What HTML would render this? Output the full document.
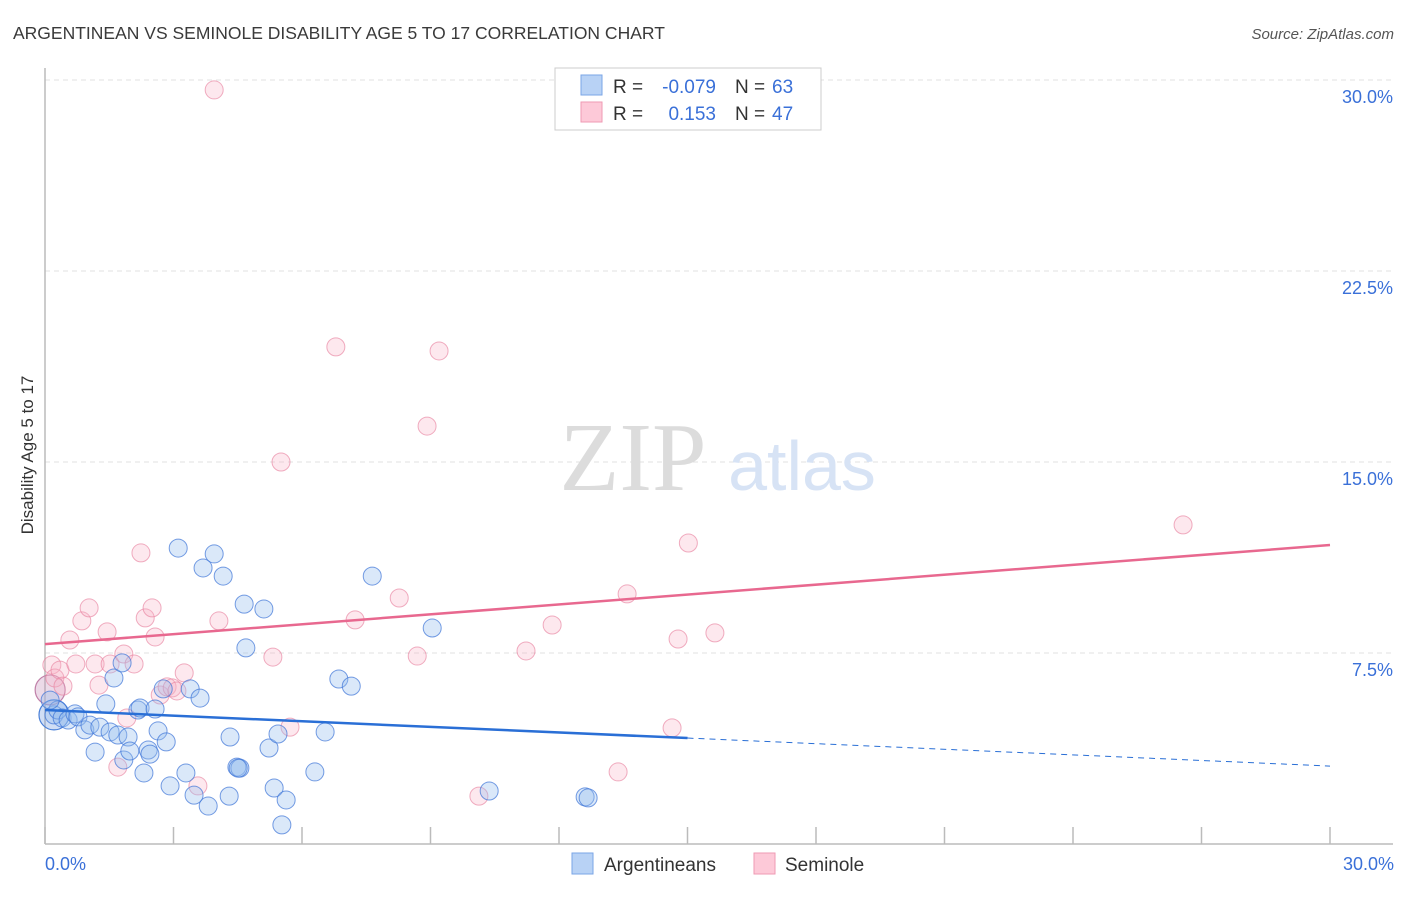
<!DOCTYPE html>
<html><head><meta charset="utf-8">
<style>
body{margin:0;background:#fff;font-family:"Liberation Sans",sans-serif;}
svg text{font-family:"Liberation Sans",sans-serif;}
</style></head>
<body>
<svg id="chart" width="1406" height="892" viewBox="0 0 1406 892" xmlns="http://www.w3.org/2000/svg">
<text x="13" y="39" font-size="17.5" fill="#3a3a3a">ARGENTINEAN VS SEMINOLE DISABILITY AGE 5 TO 17 CORRELATION CHART</text>
<text x="1394" y="39" font-size="15" fill="#555" font-style="italic" text-anchor="end">Source: ZipAtlas.com</text>
<text x="0" y="0" transform="translate(33,455) rotate(-90)" font-size="17" fill="#333" text-anchor="middle">Disability Age 5 to 17</text>
<g id="grid"></g>
<g>
<text x="633" y="490" font-size="98" fill="#dcdcdc" text-anchor="middle" style="font-family:'Liberation Serif',serif">ZIP</text>
<text x="802" y="490" font-size="70" fill="#d7e3f5" text-anchor="middle">atlas</text>
</g>
<line x1="45" y1="68" x2="45" y2="844" stroke="#bbb" stroke-width="1.5"/>
<line x1="45" y1="844" x2="1393" y2="844" stroke="#bbb" stroke-width="1.5"/>
<g id="ticks"></g>
<g id="points"></g>
<g id="trends"></g>
<text x="45" y="870" font-size="18" fill="#3a70d8">0.0%</text>
<text x="1394" y="870" font-size="18" fill="#3a70d8" text-anchor="end">30.0%</text>
<g>
<rect x="555" y="68" width="266" height="62" fill="#fff" stroke="#ccc"/>
<rect x="581" y="75" width="21" height="20" fill="#b8d2f5" stroke="#7aa5e6"/>
<rect x="581" y="102" width="21" height="20" fill="#fdc9d8" stroke="#ef9ab3"/>
<text x="613" y="93" font-size="19" fill="#333">R =</text>
<text x="716" y="93" font-size="19" fill="#3a70d8" text-anchor="end">-0.079</text>
<text x="735" y="93" font-size="19" fill="#333">N =</text>
<text x="772" y="93" font-size="19" fill="#3a70d8">63</text>
<text x="613" y="120" font-size="19" fill="#333">R =</text>
<text x="716" y="120" font-size="19" fill="#3a70d8" text-anchor="end">0.153</text>
<text x="735" y="120" font-size="19" fill="#333">N =</text>
<text x="772" y="120" font-size="19" fill="#3a70d8">47</text>
</g>
<g>
<rect x="572" y="853" width="21" height="21" fill="#b8d2f5" stroke="#7aa5e6"/>
<text x="604" y="871" font-size="19" fill="#333">Argentineans</text>
<rect x="754" y="853" width="21" height="21" fill="#fdc9d8" stroke="#ef9ab3"/>
<text x="785" y="871" font-size="19" fill="#333">Seminole</text>
</g>
</svg>
<script>
const yTicks=[7.5,15,22.5,30];
const yTickLabels=["7.5%","15.0%","22.5%","30.0%"];
const xTicks=[0,3,6,9,12,15,18,21,24,27,30];
const blueX=[0.21,0.30,0.40,0.54,0.70,0.77,0.93,1.05,1.17,1.28,1.42,1.52,1.61,1.70,1.80,1.84,1.94,1.98,2.17,2.22,2.31,2.41,2.45,2.57,2.64,2.76,2.83,2.92,3.11,3.29,3.39,3.48,3.62,3.69,3.81,3.95,4.16,4.30,4.32,4.48,4.55,4.65,4.69,5.11,5.23,5.35,5.44,5.63,5.53,6.30,6.54,6.86,7.15,7.64,9.04,10.37,12.61,12.68,4.51,0.12];
const blueY=[5.07,5.26,4.95,4.87,5.11,4.99,4.48,4.67,3.61,4.59,5.50,4.40,6.52,4.28,7.11,3.30,4.20,3.65,5.26,5.34,2.79,3.69,3.53,5.30,4.44,6.09,4.01,2.28,11.62,2.79,6.09,1.92,5.73,10.84,1.49,11.39,10.52,1.88,4.20,3.02,2.98,9.42,7.70,9.23,3.77,2.20,4.32,1.73,0.75,2.83,4.40,6.48,6.20,10.52,8.48,2.08,1.85,1.81,2.98,5.65];
const pinkX=[0.16,0.23,0.35,0.42,0.58,0.72,0.86,1.03,1.17,1.26,1.45,1.52,1.84,1.70,1.91,2.08,2.24,2.34,2.50,2.57,2.69,2.85,2.97,3.08,3.25,3.57,3.95,4.06,5.32,5.51,5.72,6.79,7.24,8.27,8.69,8.92,9.20,10.13,11.23,11.84,13.38,13.59,14.64,14.78,15.02,15.64,26.57];
const pinkY=[7.03,6.52,6.83,6.20,8.01,7.07,8.76,9.27,7.07,6.24,8.33,7.07,7.46,3.02,4.95,7.07,11.43,8.88,9.27,8.13,5.85,6.17,6.13,6.01,6.72,2.28,29.61,8.76,7.34,15.0,4.59,19.52,8.80,9.66,7.38,16.41,19.36,1.88,7.58,8.60,2.83,9.82,4.56,8.05,11.82,8.29,12.53];
const bigX=[0.12,0.21];
const bigY=[6.05,5.07];
const blueTrend=[5.26,3.06];
const pinkTrend=[7.85,11.74];
const blueSolidEnd=15;
const NS="http://www.w3.org/2000/svg";
const sx=v=>45+v/30*1285;
const sy=v=>844-v/7.5*191;
function mk(tag,attrs,parent){const e=document.createElementNS(NS,tag);for(const k in attrs)e.setAttribute(k,attrs[k]);parent.appendChild(e);return e;}
const grid=document.getElementById('grid');
yTicks.forEach((t,i)=>{
 const l=mk('line',{x1:45,x2:1393,y1:sy(t),y2:sy(t),stroke:'#e0e0e0','stroke-dasharray':'5,4'},grid);
 
 
 const tx=mk('text',{x:1393,y:sy(t)+23,'font-size':18,fill:'#3a70d8','text-anchor':'end'},grid);
 tx.textContent=yTickLabels[i];
 
 
});
const ticks=document.getElementById('ticks');
xTicks.forEach(t=>{
 const l=mk('line',{x1:sx(t),x2:sx(t),y1:827,y2:844,stroke:'#bbb','stroke-width':1.5},ticks);
 
 
});
const pts=document.getElementById('points');
bigX.forEach((x,i)=>{
 const c=mk('circle',{cx:sx(x),cy:sy(bigY[i]),r:15,fill:i?'rgba(120,160,225,0.35)':'rgba(200,150,190,0.35)',stroke:i?'#4a80d8':'#c080a8','stroke-width':1.2},pts);
 
 
});
pinkX.forEach((x,i)=>{
 const c=mk('circle',{cx:sx(x),cy:sy(pinkY[i]),r:9,fill:'rgba(248,180,200,0.3)',stroke:'rgba(232,130,160,0.65)','stroke-width':1},pts);
 
 
});
blueX.forEach((x,i)=>{
 const c=mk('circle',{cx:sx(x),cy:sy(blueY[i]),r:9,fill:'rgba(150,188,238,0.35)',stroke:'rgba(60,115,215,0.7)','stroke-width':1},pts);
 
 
});
const tr=document.getElementById('trends');
const bAt=x=>blueTrend[0]+(blueTrend[1]-blueTrend[0])*x/30;
let l1=mk('line',{x1:sx(0),y1:sy(blueTrend[0]),x2:sx(blueSolidEnd),y2:sy(bAt(blueSolidEnd)),stroke:'#2a6fd6','stroke-width':2.5},tr);


let l2=mk('line',{x1:sx(blueSolidEnd),y1:sy(bAt(blueSolidEnd)),x2:sx(30),y2:sy(blueTrend[1]),stroke:'#2a6fd6','stroke-width':1,'stroke-dasharray':'6,5'},tr);


let l3=mk('line',{x1:sx(0),y1:sy(pinkTrend[0]),x2:sx(30),y2:sy(pinkTrend[1]),stroke:'#e8688f','stroke-width':2.5},tr);


</script>
</body></html>
